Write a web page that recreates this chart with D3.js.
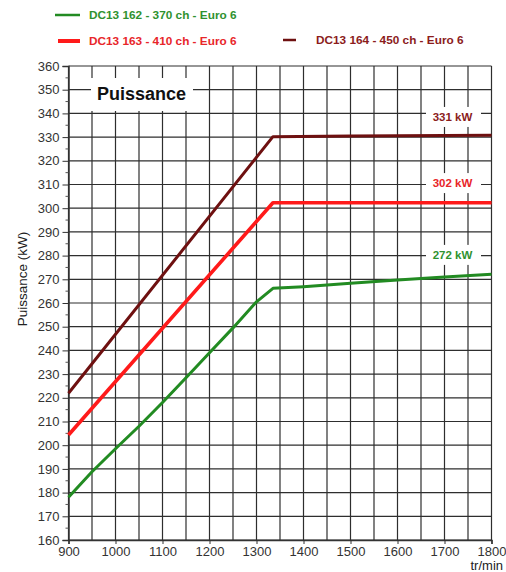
<!DOCTYPE html>
<html><head><meta charset="utf-8">
<script src="https://cdn.jsdelivr.net/npm/d3@7"></script>
<style>
html,body{margin:0;padding:0;background:#fff;}
svg{display:block;font-family:"Liberation Sans",Arial,sans-serif;}
</style></head>
<body>
<script>
// ---- data ----
const rpmDomain = [900, 1800];
const kwDomain = [160, 360];
const xTicks = [900,1000,1100,1200,1300,1400,1500,1600,1700,1800];
const yTicks = [160,170,180,190,200,210,220,230,240,250,260,270,280,290,300,310,320,330,340,350,360];
const seriesNames = ["DC13 162 - 370 ch - Euro 6","DC13 163 - 410 ch - Euro 6","DC13 164 - 450 ch - Euro 6"];
const greenRpm = [900,950,1000,1050,1100,1150,1200,1250,1300,1335,1400,1500,1600,1700,1800];
const greenKw  = [178,188.8,198.5,208,218,228.5,239,249.5,260.5,266.2,266.9,268.3,269.7,271,272.1];
const redRpm = [900,1335,1500,1800];
const redKw  = [204.3,302.3,302.3,302.3];
const darkRpm = [900,1335,1500,1800];
const darkKw  = [221.9,330.2,330.5,330.8];
const maxLabels = ["272 kW","302 kW","331 kW"];
const maxLabelKw = [280.3,310.6,338.5];

const W=506,H=572;
const svg=d3.select("body").append("svg").attr("width",W).attr("height",H);
const x=d3.scaleLinear().domain(rpmDomain).range([68.5,491.5]);
const y=d3.scaleLinear().domain(kwDomain).range([540,66]);

const colors=["#228b22","#ff1a1a","#6e1010"];
const textColors=["#2f922f","#e8262a","#8b1c1c"];
const widths=[3,3.6,3];

// grid
const g=svg.append("g");
const vgrid=d3.range(900,1801,50);
g.selectAll("line.v").data(vgrid).join("line")
 .attr("x1",d=>x(d)).attr("x2",d=>x(d)).attr("y1",y(360)).attr("y2",y(160))
 .attr("stroke","#2e2e2e").attr("stroke-width",1.2);
g.selectAll("line.h").data(yTicks).join("line")
 .attr("x1",x(900)).attr("x2",x(1800)).attr("y1",d=>y(d)).attr("y2",d=>y(d))
 .attr("stroke","#2e2e2e").attr("stroke-width",1.2);

// Y axis
const yAxis=d3.axisLeft(y).tickValues(yTicks).tickSize(6).tickPadding(3);
const ya=svg.append("g").attr("transform",`translate(${x(900)},0)`).call(yAxis);
ya.select(".domain").attr("stroke","#333").attr("stroke-width",1.5);
ya.selectAll(".tick line").attr("stroke","#333");
ya.selectAll("text").attr("font-size",13).attr("fill","#333").attr("font-family","Liberation Sans,Arial,sans-serif");
// minor ticks
svg.append("g").selectAll("line").data(d3.range(165,360,10)).join("line")
 .attr("x1",x(900)-3).attr("x2",x(900)).attr("y1",d=>y(d)).attr("y2",d=>y(d))
 .attr("stroke","#555");

// X axis
const xAxis=d3.axisBottom(x).tickValues(xTicks).tickSize(4).tickPadding(3).tickFormat(d3.format("d"));
const xa=svg.append("g").attr("transform",`translate(0,${y(160)})`).call(xAxis);
xa.select(".domain").attr("stroke","#333").attr("stroke-width",1.5);
xa.selectAll(".tick line").attr("stroke","#333");
xa.selectAll("text").attr("font-size",13).attr("fill","#333").attr("font-family","Liberation Sans,Arial,sans-serif");

svg.append("text").attr("x",503).attr("y",570).attr("text-anchor","end")
 .attr("font-size",13).attr("fill","#222").text("tr/min");

svg.append("text").attr("transform","translate(27,279) rotate(-90)").attr("text-anchor","middle")
 .attr("font-size",13.5).attr("fill","#222").text("Puissance (kW)");

// Title box
svg.append("rect").attr("x",91).attr("y",78).attr("width",102).attr("height",33).attr("fill","#fff");
svg.append("text").attr("x",97).attr("y",100).attr("font-size",18).attr("font-weight","bold")
 .attr("fill","#111").text("Puissance");

// max labels
maxLabels.forEach((t,i)=>{
  const cy=y(maxLabelKw[i]);
  svg.append("rect").attr("x",426).attr("y",cy-10).attr("width",55).attr("height",20).attr("fill","#fff");
  svg.append("text").attr("x",452.5).attr("y",cy+4).attr("text-anchor","middle")
   .attr("font-size",11.5).attr("font-weight","bold").attr("fill",textColors[i]).text(t);
});

// lines
const line=d3.line().x(d=>x(d[0])).y(d=>y(d[1]));
const series=[d3.zip(greenRpm,greenKw),d3.zip(redRpm,redKw),d3.zip(darkRpm,darkKw)];
[1,2,0].forEach(i=>{
  svg.append("path").datum(series[i]).attr("d",line).attr("fill","none")
   .attr("stroke",colors[i]).attr("stroke-width",widths[i]).attr("stroke-linejoin","round");
});

// legend
const leg=[{x1:55,x2:80,y:15,tx:89},{x1:58,x2:80,y:41,tx:89},{x1:283,x2:296,y:40,tx:316}];
leg.forEach((l,i)=>{
  svg.append("line").attr("x1",l.x1).attr("x2",l.x2).attr("y1",l.y).attr("y2",l.y)
   .attr("stroke",colors[i]).attr("stroke-width",i===1?4:2.5);
  svg.append("text").attr("x",l.tx).attr("y",l.y+4).attr("font-size",11.8).attr("font-weight","bold")
   .attr("fill",textColors[i]).text(seriesNames[i]);
});
</script>
</body></html>
